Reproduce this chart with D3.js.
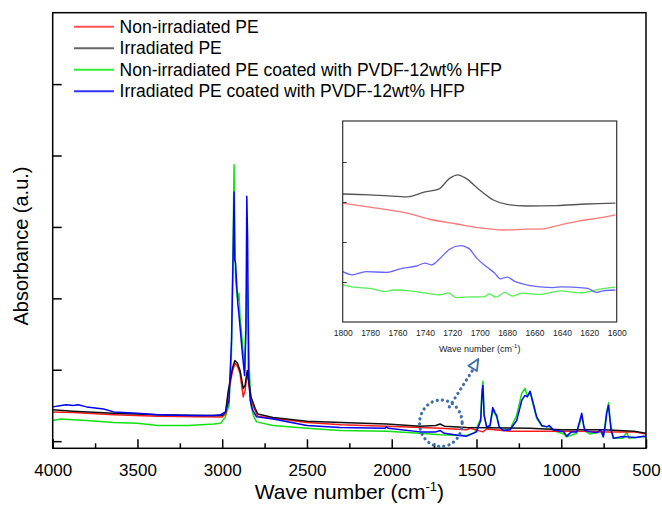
<!DOCTYPE html>
<html>
<head>
<meta charset="utf-8">
<script src="https://cdn.jsdelivr.net/npm/d3@7"></script>
<style>
  body { margin: 0; background: #fff; }
  svg { display: block; font-family: "Liberation Sans", Arial, sans-serif; }
</style>
</head>
<body>
<div id="chart"></div>
<script>
// FTIR spectra, [wave number (cm-1), absorbance (a.u.)]
var nonIrrPE = [
  [4000, 0.41], [3880, 0.40], [3640, 0.37], [3380, 0.35], [3000, 0.34], [2980, 0.38],
  [2964, 0.67], [2940, 0.97], [2925, 1.09], [2910, 1.05], [2895, 0.95], [2876, 0.62],
  [2865, 0.71], [2852, 0.97], [2840, 0.74], [2830, 0.57], [2806, 0.43], [2790, 0.35],
  [2700, 0.32], [2500, 0.26], [2300, 0.23], [2030, 0.21], [1833, 0.19], [1715, 0.18],
  [1558, 0.16], [1538, 0.18], [1462, 0.13], [1440, 0.17], [1300, 0.14], [1050, 0.14],
  [870, 0.14], [720, 0.13], [570, 0.13], [500, 0.10]
];
var irrPE = [
  [4000, 0.44], [3880, 0.42], [3640, 0.39], [3380, 0.37], [3100, 0.36], [3000, 0.36],
  [2980, 0.41], [2964, 0.71], [2940, 1.02], [2925, 1.13], [2910, 1.09], [2895, 0.99],
  [2876, 0.74], [2865, 0.78], [2852, 0.99], [2840, 0.78], [2830, 0.62], [2806, 0.46],
  [2790, 0.38], [2700, 0.33], [2500, 0.28], [2300, 0.26], [2030, 0.24], [1833, 0.21],
  [1740, 0.22], [1715, 0.24], [1690, 0.21], [1558, 0.19], [1184, 0.18], [1000, 0.16],
  [750, 0.16], [570, 0.14], [500, 0.11]
];
var nonIrrCoated = [
  [4000, 0.29], [3950, 0.31], [3880, 0.30], [3800, 0.29], [3640, 0.26], [3500, 0.25],
  [3380, 0.22], [3200, 0.22], [3050, 0.24], [3010, 0.25], [2983, 0.33], [2960, 0.50],
  [2945, 1.27], [2935, 2.95], [2930, 3.87], [2926, 2.82], [2921, 2.26], [2915, 2.11],
  [2908, 1.97], [2901, 2.07], [2895, 1.75], [2880, 1.35], [2868, 0.99], [2860, 1.70],
  [2854, 2.30], [2848, 1.97], [2840, 0.99], [2830, 0.50], [2815, 0.35], [2797, 0.27],
  [2700, 0.22], [2500, 0.18], [2305, 0.15], [2030, 0.14], [1833, 0.11], [1715, 0.09],
  [1558, 0.08], [1510, 0.12], [1475, 0.32], [1468, 0.71], [1462, 0.84], [1455, 0.36],
  [1440, 0.20], [1420, 0.21], [1404, 0.43], [1391, 0.38], [1381, 0.34], [1366, 0.20],
  [1342, 0.16], [1302, 0.17], [1263, 0.36], [1233, 0.67], [1214, 0.74], [1200, 0.63],
  [1184, 0.68], [1165, 0.50], [1145, 0.32], [1115, 0.21], [1070, 0.20], [1047, 0.15],
  [985, 0.10], [968, 0.06], [909, 0.11], [879, 0.35], [860, 0.14], [830, 0.10],
  [765, 0.13], [752, 0.06], [732, 0.41], [720, 0.54], [712, 0.29], [692, 0.04],
  [640, 0.04], [613, 0.12], [600, 0.04], [516, 0.06], [500, 0.07]
];
var irrCoated = [
  [4000, 0.48], [3950, 0.50], [3920, 0.51], [3880, 0.50], [3850, 0.51], [3800, 0.48],
  [3700, 0.45], [3640, 0.41], [3500, 0.39], [3380, 0.37], [3200, 0.36], [3050, 0.36],
  [3010, 0.37], [2980, 0.41], [2960, 0.57], [2945, 1.42], [2935, 2.68], [2930, 3.49],
  [2926, 2.54], [2921, 2.49], [2915, 2.21], [2908, 1.93], [2900, 1.74], [2880, 1.20],
  [2868, 0.92], [2860, 1.56], [2855, 3.43], [2850, 2.82], [2845, 0.99], [2835, 0.57],
  [2820, 0.43], [2797, 0.34], [2700, 0.31], [2500, 0.22], [2305, 0.19], [2040, 0.18],
  [2030, 0.20], [2020, 0.18], [1833, 0.13], [1740, 0.13], [1715, 0.15], [1690, 0.11],
  [1600, 0.08], [1558, 0.07], [1500, 0.13], [1475, 0.29], [1468, 0.64], [1462, 0.78],
  [1455, 0.36], [1440, 0.20], [1420, 0.22], [1404, 0.47], [1391, 0.40], [1381, 0.36],
  [1366, 0.20], [1342, 0.15], [1302, 0.16], [1263, 0.29], [1233, 0.57], [1214, 0.64],
  [1200, 0.62], [1184, 0.70], [1165, 0.53], [1145, 0.34], [1115, 0.22], [1085, 0.20],
  [1070, 0.22], [1047, 0.16], [985, 0.13], [968, 0.07], [940, 0.13], [909, 0.13],
  [890, 0.29], [879, 0.39], [868, 0.22], [860, 0.15], [830, 0.13], [791, 0.12],
  [765, 0.16], [752, 0.06], [740, 0.22], [732, 0.39], [722, 0.50], [715, 0.36],
  [706, 0.15], [692, 0.04], [650, 0.06], [613, 0.06], [560, 0.05], [516, 0.07], [500, 0.06]
];

// inset 1800-1600 cm-1 (arbitrary offset units)
var insetNonIrrPE = [
  [1800, 2.97], [1778, 2.86], [1753, 2.72], [1734, 2.55], [1717, 2.45], [1697, 2.34],
  [1683, 2.30], [1666, 2.32], [1654, 2.33], [1641, 2.43], [1627, 2.53], [1615, 2.59], [1601, 2.68]
];
var insetIrrPE = [
  [1800, 3.20], [1780, 3.18], [1760, 3.14], [1753, 3.13], [1739, 3.26], [1730, 3.32],
  [1722, 3.59], [1716, 3.68], [1710, 3.59], [1700, 3.30], [1690, 3.05], [1680, 2.94],
  [1666, 2.90], [1644, 2.91], [1622, 2.95], [1601, 2.97]
];
var insetNonIrrCoated = [
  [1800, 0.93], [1792, 0.87], [1780, 0.84], [1769, 0.76], [1763, 0.80], [1751, 0.78],
  [1739, 0.72], [1729, 0.68], [1723, 0.73], [1717, 0.61], [1705, 0.63], [1697, 0.63],
  [1693, 0.70], [1688, 0.62], [1682, 0.74], [1676, 0.65], [1669, 0.72], [1656, 0.69],
  [1641, 0.78], [1627, 0.73], [1612, 0.82], [1601, 0.87]
];
var insetIrrCoated = [
  [1800, 1.26], [1793, 1.18], [1783, 1.26], [1768, 1.24], [1758, 1.33], [1746, 1.40],
  [1740, 1.47], [1735, 1.43], [1729, 1.59], [1722, 1.82], [1714, 1.91], [1708, 1.84],
  [1702, 1.59], [1695, 1.38], [1689, 1.22], [1685, 1.08], [1680, 1.12], [1674, 1.01],
  [1666, 0.93], [1656, 0.88], [1646, 0.86], [1641, 0.88], [1632, 0.87], [1621, 0.84],
  [1615, 0.74], [1610, 0.78], [1601, 0.80]
];

var seriesNames = ["Non-irradiated PE", "Irradiated PE",
  "Non-irradiated PE coated with PVDF-12wt% HFP", "Irradiated PE coated with PVDF-12wt% HFP"];
var xMajorTicks = [4000, 3500, 3000, 2500, 2000, 1500, 1000, 500];
var xMinorTicks = [3750, 3250, 2750, 2250, 1750, 1250, 750];
var yTicks = [0, 1, 2, 3, 4, 5];
var insetXTicks = [1800, 1780, 1760, 1740, 1720, 1700, 1680, 1660, 1640, 1620, 1600];
var insetYTicks = [1, 2, 3, 4];

var W = 662, H = 513;
var margin = {top: 12.7, right: 16, bottom: 64.7, left: 52.7};
var width = W - margin.left - margin.right,
    height = H - margin.top - margin.bottom;

var colors = ["#ff1a1a", "#111111", "#11e011", "#0000ff"];
var legendColors = ["#ff5555", "#666666", "#33ee33", "#3333ff"];
var insetColors = ["#ff7777", "#555555", "#55ee55", "#6666ff"];

var svg = d3.select("#chart").append("svg")
    .attr("width", W).attr("height", H);

var g = svg.append("g")
    .attr("transform", "translate(" + margin.left + "," + margin.top + ")");

var x = d3.scaleLinear().domain([4000, 500]).range([0, width]);
var y = d3.scaleLinear().domain([-0.1, 6]).range([height, 0]);

g.append("clipPath").attr("id", "clip")
  .append("rect").attr("width", width).attr("height", height);

var line = d3.line().x(d => x(d[0])).y(d => y(d[1]));

var spectra = [nonIrrPE, irrPE, nonIrrCoated, irrCoated];
// draw order as in the figure: green under, then red, black, blue on top
[2, 0, 1, 3].forEach(function(i) {
  g.append("path")
    .datum(spectra[i])
    .attr("clip-path", "url(#clip)")
    .attr("fill", "none")
    .attr("stroke", colors[i])
    .attr("stroke-width", 1.5)
    .attr("stroke-linejoin", "round")
    .attr("d", line);
});

// axes: inward ticks
g.append("g")
  .attr("transform", "translate(0," + height + ")")
  .call(d3.axisBottom(x).tickValues(xMajorTicks).tickSize(-9).tickPadding(16).tickFormat(d3.format("d")))
  .call(a => a.select(".domain").remove())
  .call(a => a.selectAll("text").attr("font-size", 17).attr("fill", "#000").attr("font-family", "Liberation Sans, Arial, sans-serif"))
  .call(a => a.selectAll("line").attr("stroke-width", 1.5));

g.append("g")
  .attr("transform", "translate(0," + height + ")")
  .call(d3.axisBottom(x).tickValues(xMinorTicks).tickSize(-5).tickFormat(""))
  .call(a => a.select(".domain").remove())
  .call(a => a.selectAll("line").attr("stroke-width", 1.5));

g.append("g")
  .call(d3.axisLeft(y).tickValues(yTicks).tickSize(-9).tickFormat(""))
  .call(a => a.select(".domain").remove())
  .call(a => a.selectAll("line").attr("stroke-width", 1.5));

g.append("rect")
  .attr("width", width).attr("height", height)
  .attr("fill", "none").attr("stroke", "#000").attr("stroke-width", 1.5);

// axis titles
var xt = svg.append("text")
  .attr("x", margin.left + width / 2).attr("y", 499)
  .attr("text-anchor", "middle").attr("font-size", 21);
xt.append("tspan").text("Wave number (cm");
xt.append("tspan").attr("font-size", 13).attr("dy", -8).text("-1");
xt.append("tspan").attr("dy", 8).text(")");

svg.append("text")
  .attr("transform", "translate(28,246) rotate(-90)")
  .attr("text-anchor", "middle").attr("font-size", 20)
  .text("Absorbance (a.u.)");

// legend
var legend = svg.append("g").attr("transform", "translate(74,26.7)");
seriesNames.forEach(function(name, i) {
  var row = legend.append("g").attr("transform", "translate(0," + (i * 21.5) + ")");
  row.append("line").attr("x1", 0).attr("x2", 40)
    .attr("stroke", legendColors[i]).attr("stroke-width", 2);
  row.append("text").attr("x", 45.6).attr("y", 6)
    .attr("font-size", 17.5).text(name);
});

// marker ellipse around the 1715 cm-1 band and dotted arrow to the inset
var dotBlue = "#3d6fa8";
g.append("ellipse")
  .attr("cx", x(1710)).attr("cy", y(0.25))
  .attr("rx", 21.3).attr("ry", 23.3)
  .attr("fill", "none").attr("stroke", dotBlue)
  .attr("stroke-width", 3.2).attr("stroke-dasharray", "0.1 5.2")
  .attr("stroke-linecap", "round");

// inset
var inset = {left: 342.7, top: 121, width: 274, height: 201};
var ix = d3.scaleLinear().domain([1800, 1600]).range([0, inset.width]);
var iy = d3.scaleLinear().domain([0, 5.025]).range([inset.height, 0]);
var ig = svg.append("g").attr("transform", "translate(" + inset.left + "," + inset.top + ")");

ig.append("rect").attr("width", inset.width).attr("height", inset.height)
  .attr("fill", "#fff");

var iline = d3.line().x(d => ix(d[0])).y(d => iy(d[1])).curve(d3.curveMonotoneX);
[insetNonIrrPE, insetIrrPE, insetNonIrrCoated, insetIrrCoated].forEach(function(s, i) {
  ig.append("path").datum(s)
    .attr("fill", "none").attr("stroke", insetColors[i])
    .attr("stroke-width", 1.3).attr("d", iline);
});

ig.append("g")
  .attr("transform", "translate(0," + inset.height + ")")
  .call(d3.axisBottom(ix).tickValues(insetXTicks).tickSize(0).tickPadding(8).tickFormat(d3.format("d")))
  .call(a => a.select(".domain").remove())
  .call(a => a.selectAll("text").attr("font-size", 8.5).attr("fill", "#222").attr("font-family", "Liberation Sans, Arial, sans-serif"));

ig.append("g")
  .call(d3.axisLeft(iy).tickValues(insetYTicks).tickSize(-4).tickFormat(""))
  .call(a => a.select(".domain").remove())
  .call(a => a.selectAll("line").attr("stroke", "#333"));

ig.append("rect").attr("width", inset.width).attr("height", inset.height)
  .attr("fill", "none").attr("stroke", "#333").attr("stroke-width", 1.2);

var it = ig.append("text")
  .attr("x", inset.width / 2).attr("y", inset.height + 30)
  .attr("text-anchor", "middle").attr("font-size", 9).attr("fill", "#222");
it.append("tspan").text("Wave number (cm");
it.append("tspan").attr("font-size", 6).attr("dy", -4).text("-1");
it.append("tspan").attr("dy", 4).text(")");

// dotted arrow from ellipse to inset caption
var ax0 = margin.left + x(1660), ay0 = margin.top + y(0.48);
var ax1 = inset.left + ix(1701), ay1 = inset.top + inset.height + 37;
svg.append("line")
  .attr("x1", ax0).attr("y1", ay0).attr("x2", ax1 - 3).attr("y2", ay1 + 7)
  .attr("stroke", dotBlue).attr("stroke-width", 3.2)
  .attr("stroke-dasharray", "0.1 5.2").attr("stroke-linecap", "round");
var ang = Math.atan2(ay1 - ay0, ax1 - ax0);
var hl = 11, hw = 5;
var bx = ax1 - hl * Math.cos(ang), by = ay1 - hl * Math.sin(ang);
svg.append("path")
  .attr("d", "M" + ax1 + "," + ay1 +
    "L" + (bx + hw * Math.sin(ang)) + "," + (by - hw * Math.cos(ang)) +
    "L" + (bx - hw * Math.sin(ang)) + "," + (by + hw * Math.cos(ang)) + "Z")
  .attr("fill", "#fff").attr("stroke", dotBlue).attr("stroke-width", 1.8)
  .attr("stroke-linejoin", "round");
</script>
</body>
</html>
